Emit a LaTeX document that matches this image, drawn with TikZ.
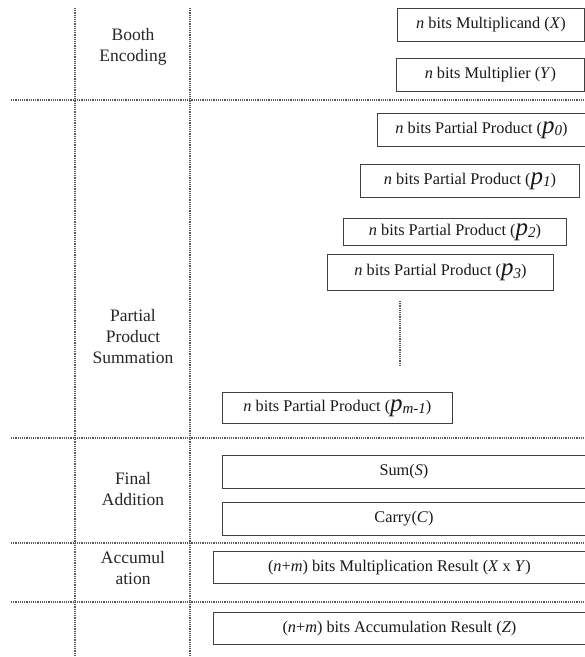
\documentclass[tikz,border=0pt]{standalone}
\usepackage{fontspec}
\setmainfont{Liberation Serif}
\usepackage{tikz}
\usetikzlibrary{positioning}

\newcommand{\pterm}[1]{{\fontsize{25}{25}\selectfont\textit{p}}\raisebox{-0.35ex}{\fontsize{15}{15}\selectfont\textit{#1}}}

\begin{document}
\begin{tikzpicture}[x=1pt, y=-1pt,
    box/.style={draw=black!75, line width=0.9pt, rectangle, anchor=north west, inner sep=0pt, text=black!90, font=\fontsize{16.3}{18}\selectfont},
    sep/.style={draw=black!65, densely dotted, line width=1.2pt},
    stage/.style={align=center, text=black!85, font=\fontsize{17.5}{21}\selectfont}]
    \useasboundingbox (0,0) rectangle (585,657);

    \draw [sep] (75,8) -- (75,657);
    \draw [sep] (190,8) -- (190,657);
    \draw [sep] (11,100) -- (585,100);
    \draw [sep] (11,438) -- (585,438);
    \draw [sep] (11,543) -- (585,543);
    \draw [sep] (11,602) -- (585,602);

    \node [stage] (booth) at (133,47) {Booth\\Encoding};
    \node [stage] (summ) at (133,337) {Partial\\Product\\Summation};
    \node [stage] (final) at (133,489) {Final\\Addition};
    \node [stage] (accum) at (133,568) {Accumul\\ation};

    \node [box, minimum width=187pt, minimum height=33pt] (mcand) at (397,8) {\textit{n} bits Multiplicand (\textit{X})};
    \node [box, minimum width=188pt, minimum height=33pt] (mplier) at (396,58) {\textit{n} bits Multiplier (\textit{Y})};
    \node [box, minimum width=208pt, minimum height=33pt] (pp0) at (377,113) {\textit{n} bits Partial Product (\pterm{0})};
    \node [box, minimum width=219pt, minimum height=33pt] (pp1) at (360,164) {\textit{n} bits Partial Product (\pterm{1})};
    \node [box, minimum width=223pt, minimum height=27pt] (pp2) at (343,218) {\textit{n} bits Partial Product (\pterm{2})};
    \node [box, minimum width=226pt, minimum height=36pt] (pp3) at (327,254) {\textit{n} bits Partial Product (\pterm{3})};
    \node [box, minimum width=230pt, minimum height=31pt] (ppm) at (222,392) {\textit{n} bits Partial Product (\pterm{m-1})};

    \coordinate (gaptop) at (400,301);
    \coordinate (gapbot) at (400,365);
    \draw [sep] (gaptop) -- (gapbot);

    \node [box, minimum width=363pt, minimum height=33pt] (sum) at (222,455) {Sum(\textit{S})};
    \node [box, minimum width=363pt, minimum height=33pt] (carry) at (222,502) {Carry(\textit{C})};
    \node [box, minimum width=372pt, minimum height=32pt] (mres) at (213,551) {(\textit{n}+\textit{m}) bits Multiplication Result (\textit{X} x \textit{Y})};
    \node [box, minimum width=372pt, minimum height=32pt] (ares) at (213,612) {(\textit{n}+\textit{m}) bits Accumulation Result (\textit{Z})};
\end{tikzpicture}
\end{document}
